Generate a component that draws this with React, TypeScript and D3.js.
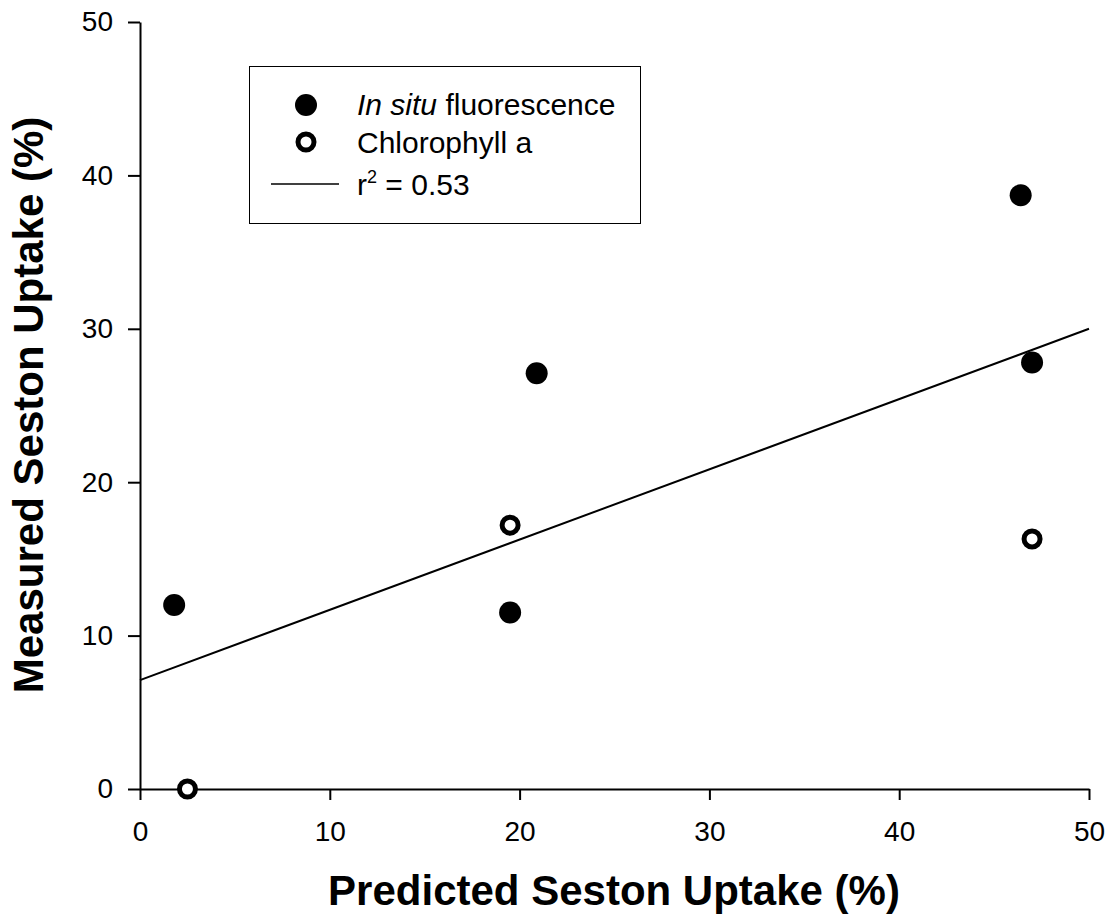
import React, { useRef, useEffect } from 'react';
import * as d3 from 'd3';

// data
const fluorX = [1.8, 20.9, 19.5, 46.4, 47.0];
const fluorY = [12.0, 27.1, 11.5, 38.7, 27.8];
const chlX = [2.5, 19.5, 47.0];
const chlY = [0.0, 17.2, 16.3];
const fitX = [0, 50];
const fitY = [7.1, 30.0];
const ticks = [0, 10, 20, 30, 40, 50];

const App = () => {
  const svgRef = useRef<SVGSVGElement>(null);
  const W = 1113, H = 924;
  const left = 140, right = 1089, top = 22, bottom = 789;

  useEffect(() => {
    const svg = d3.select(svgRef.current);
    svg.selectAll("*").remove();
    const font = "Liberation Sans, Arial, sans-serif";

    const x = d3.scaleLinear().domain([0, 50]).range([left, right]);
    const y = d3.scaleLinear().domain([0, 50]).range([bottom, top]);

    // regression line
    svg.append("path")
      .attr("d", d3.line<number>()((fitX.map((v, i) => [x(v), y(fitY[i])]) as any)))
      .attr("stroke", "#000").attr("stroke-width", 2).attr("fill", "none");

    // axes
    const xAxis = svg.append("g")
      .attr("transform", `translate(0,${bottom})`)
      .call(d3.axisBottom(x).tickValues(ticks).tickSize(11).tickSizeOuter(0).tickPadding(21));
    const yAxis = svg.append("g")
      .attr("transform", `translate(${left},0)`)
      .call(d3.axisLeft(y).tickValues(ticks).tickSize(12).tickSizeOuter(0).tickPadding(15));
    [xAxis, yAxis].forEach(g => {
      g.select(".domain").attr("stroke-width", 2);
      g.selectAll(".tick line").attr("stroke-width", 2);
      g.selectAll("text").attr("font-family", font).attr("font-size", 28).attr("fill", "#000");
    });

    // points
    svg.append("g").selectAll("circle").data(fluorX).join("circle")
      .attr("cx", d => x(d)).attr("cy", (d, i) => y(fluorY[i]))
      .attr("r", 11).attr("fill", "#000");
    svg.append("g").selectAll("circle").data(chlX).join("circle")
      .attr("cx", d => x(d)).attr("cy", (d, i) => y(chlY[i]))
      .attr("r", 8).attr("fill", "#fff").attr("stroke", "#000").attr("stroke-width", 5);

    // legend
    const lg = svg.append("g");
    lg.append("rect").attr("x", 249.5).attr("y", 66.5).attr("width", 391).attr("height", 157)
      .attr("fill", "#fff").attr("stroke", "#000").attr("stroke-width", 1);
    lg.append("circle").attr("cx", 306).attr("cy", 105).attr("r", 11).attr("fill", "#000");
    lg.append("circle").attr("cx", 306).attr("cy", 142).attr("r", 8).attr("fill", "#fff")
      .attr("stroke", "#000").attr("stroke-width", 5);
    lg.append("line").attr("x1", 271).attr("x2", 339).attr("y1", 184).attr("y2", 184)
      .attr("stroke", "#000").attr("stroke-width", 1.5);
    const fs = 30;
    const t1 = lg.append("text").attr("x", 357).attr("y", 115).attr("font-family", font).attr("font-size", fs);
    t1.append("tspan").attr("font-style", "italic").text("In situ");
    t1.append("tspan").text(" fluorescence");
    lg.append("text").attr("x", 357).attr("y", 153).attr("font-family", font).attr("font-size", fs)
      .text("Chlorophyll a");
    const t3 = lg.append("text").attr("x", 357).attr("y", 195).attr("font-family", font).attr("font-size", fs);
    t3.append("tspan").text("r");
    t3.append("tspan").attr("font-size", 18).attr("dy", -12).text("2");
    t3.append("tspan").attr("dy", 12).text(" = 0.53");

    // axis titles
    svg.append("text").attr("x", 614).attr("y", 905).attr("text-anchor", "middle")
      .attr("font-family", font).attr("font-size", 42).attr("font-weight", "bold")
      .text("Predicted Seston Uptake (%)");
    svg.append("text").attr("transform", `translate(43,405) rotate(-90)`).attr("text-anchor", "middle")
      .attr("font-family", font).attr("font-size", 42).attr("font-weight", "bold")
      .text("Measured Seston Uptake (%)");
  }, []);

  return (
    <svg ref={svgRef} width={W} height={H}
      style={{ position: "absolute", left: 0, top: 0, background: "#fff" }} />
  );
};

export default App;
